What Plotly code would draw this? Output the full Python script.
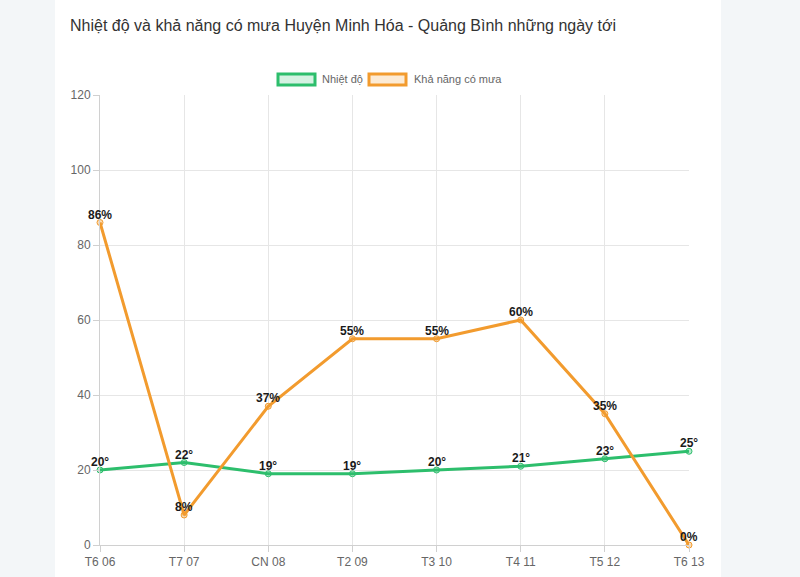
import plotly.graph_objects as go

days = ["T6 06", "T7 07", "CN 08", "T2 09", "T3 10", "T4 11", "T5 12", "T6 13"]
temperature = [20, 22, 19, 19, 20, 21, 23, 25]
rain_chance = [86, 8, 37, 55, 55, 60, 35, 0]
y_ticks = [0, 20, 40, 60, 80, 100, 120]

GREEN = "#2dbe6c"
ORANGE = "#f29b2e"
W, H = 800, 577
L, R, T, B = 100, 689, 95, 545

def px(x):
    return (x - L) / (R - L)

def py(y):
    return (B - y) / (B - T)

xs = list(range(len(days)))
fig = go.Figure()
series = [(temperature, GREEN, "rgba(45,190,108,0.35)", "°"),
          (rain_chance, ORANGE, "rgba(242,155,46,0.35)", "%")]
annotations = []
for vals, col, fill, suf in series:
    fig.add_trace(go.Scatter(
        x=xs, y=vals, mode="lines+markers",
        line=dict(color=col, width=3),
        marker=dict(size=6, color=fill, line=dict(color=col, width=1)),
        showlegend=False, cliponaxis=False,
    ))
    for xi, v in zip(xs, vals):
        annotations.append(dict(
            x=xi, y=v, xref="x", yref="y", text=f"{v}{suf}", showarrow=False,
            yanchor="middle", xanchor="center", yshift=8,
            font=dict(family="Liberation Sans, Arial", size=12, color="#1a1a1a", weight="bold"),
        ))

shapes = [
    dict(type="rect", xref="paper", yref="paper", x0=px(55), x1=px(721), y0=py(577), y1=py(0),
         fillcolor="white", line=dict(width=0), layer="below"),
    dict(type="rect", xref="paper", yref="paper", x0=px(278), x1=px(315), y0=py(85), y1=py(74),
         fillcolor="rgba(45,190,108,0.2)", line=dict(color=GREEN, width=3)),
    dict(type="rect", xref="paper", yref="paper", x0=px(369), x1=px(406), y0=py(85), y1=py(74),
         fillcolor="rgba(242,155,46,0.2)", line=dict(color=ORANGE, width=3)),
]
annotations += [
    dict(text="Nhiệt độ và khả năng có mưa Huyện Minh Hóa - Quảng Bình những ngày tới",
         xref="paper", yref="paper", x=px(68), y=py(25), xanchor="left", yanchor="middle",
         showarrow=False, font=dict(family="Liberation Sans, Arial", size=16, color="#333")),
    dict(text="Nhiệt độ", xref="paper", yref="paper", x=px(320), y=py(79.5),
         xanchor="left", yanchor="middle", showarrow=False,
         font=dict(family="Liberation Sans, Arial", size=11, color="#666")),
    dict(text="Khả năng có mưa", xref="paper", yref="paper", x=px(412), y=py(79.5),
         xanchor="left", yanchor="middle", showarrow=False,
         font=dict(family="Liberation Sans, Arial", size=11, color="#666")),
]

fig.update_layout(
    width=W, height=H,
    margin=dict(l=L, r=W - R, t=T, b=H - B, pad=0, autoexpand=False),
    paper_bgcolor="#f3f6f8", plot_bgcolor="white",
    shapes=shapes, annotations=annotations, showlegend=False,
    xaxis=dict(range=[0, len(days) - 1], tickvals=xs, ticktext=days,
               showgrid=True, gridcolor="#e6e6e6", gridwidth=1,
               showline=True, linecolor="#d0d0d0", linewidth=1,
               ticks="outside", ticklen=6, tickcolor="#d0d0d0",
               tickfont=dict(family="Liberation Sans, Arial", size=12, color="#666"),
               zeroline=False, fixedrange=True, automargin=False),
    yaxis=dict(range=[0, 120], tickvals=y_ticks,
               showgrid=True, gridcolor="#e6e6e6", gridwidth=1,
               showline=True, linecolor="#d0d0d0", linewidth=1,
               ticks="outside", ticklen=6, tickcolor="#d0d0d0",
               tickfont=dict(family="Liberation Sans, Arial", size=12, color="#666"),
               zeroline=False, fixedrange=True, automargin=False),
)
fig.write_html("out.html")
